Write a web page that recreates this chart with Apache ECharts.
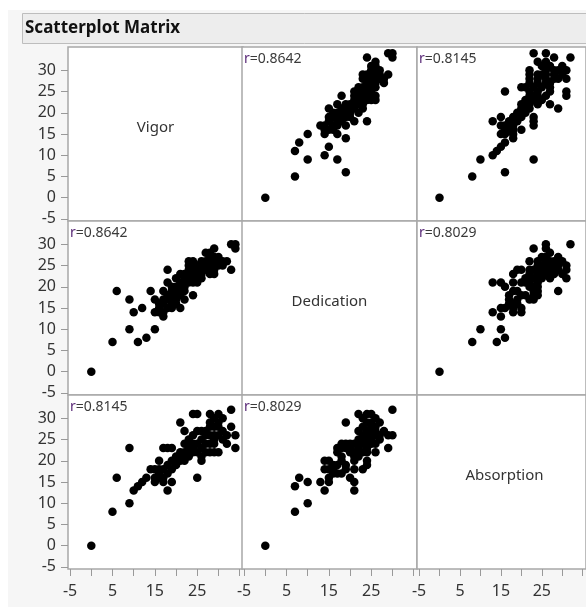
<!DOCTYPE html>
<html><head><meta charset="utf-8">
<script src="https://cdn.jsdelivr.net/npm/echarts@6/dist/echarts.min.js"></script>
<style>html,body{margin:0;padding:0;background:#fff}#c{width:586px;height:607px}</style>
</head><body><div id="c"></div><script>
// ---- data ----
const chartTitle = 'Scatterplot Matrix';
const variables = ['Vigor', 'Dedication', 'Absorption'];
const correlationVD = 'r=0.8642';
const correlationVA = 'r=0.8145';
const correlationDA = 'r=0.8029';
const xTickValues = [-5, 0, 5, 10, 15, 20, 25, 30, 35];
const xLabelValues = [-5, 5, 15, 25];
const yTickValues = [-5, 0, 5, 10, 15, 20, 25, 30];

// [vigor, dedication]
const vigorDedication = [[0,0],[5,7],[6,19],[9,17],[9,10],[10,14],[11,7],[12,15],[13,8],[14,19],[15,17],[15,14],[15,10],[16,15],[17,13],[17,19],[18,24],[18,21],[19,20],[18,15],[19,16],[21,15],[22,17],[24,18],[16,16],[17,16],[17,17],[18,17],[18,18],[19,17],[19,18],[19,19],[20,18],[20,19],[20,20],[21,19],[21,20],[21,21],[22,20],[22,21],[22,22],[23,21],[23,22],[23,23],[24,21],[24,22],[24,23],[24,24],[25,22],[25,23],[25,24],[26,23],[26,24],[26,25],[27,24],[27,25],[28,25],[23,24],[23,25],[22,23],[21,23],[20,22],[25,25],[24,25],[26,26],[27,26],[23,26],[24,26],[28,26],[29,26],[30,26],[31,26],[32,26],[28,27],[29,27],[27,28],[28,28],[29,29],[30,27],[29,25],[30,25],[31,25],[29,23],[28,23],[33,24],[33,30],[34,30],[34,29],[28,24],[29,24],[25,21],[26,22],[21,18],[20,17],[22,19],[20,16],[19,15],[17,14],[16,14]];
// [vigor, absorption]
const vigorAbsorption = [[0,0],[5,8],[6,16],[9,23],[9,10],[10,13],[11,14],[12,15],[13,16],[14,18],[15,18],[16,18],[17,18],[15,16],[16,16],[17,16],[15,15],[17,15],[19,15],[16,20],[17,23],[18,23],[19,23],[18,13],[18,17],[19,18],[20,19],[20,20],[21,20],[21,21],[22,21],[22,22],[23,22],[23,23],[24,23],[24,24],[25,24],[25,22],[20,21],[19,20],[21,22],[22,20],[23,21],[21,29],[24,31],[25,31],[25,16],[26,20],[28,31],[30,31],[33,32],[34,26],[33,28],[34,23],[28,22],[29,22],[30,22],[32,24],[26,25],[27,26],[27,27],[28,28],[28,29],[29,30],[29,28],[30,29],[30,28],[31,30],[26,27],[28,26],[29,26],[30,26],[31,27],[27,24],[26,23],[22,24],[23,25],[24,26],[25,27],[22,27],[31,25],[32,26],[24,22],[26,21],[27,22],[23,24],[29,25],[18,19],[16,17],[28,24],[29,24]];
// [dedication, absorption]
const dedicationAbsorption = [[0,0],[7,8],[7,14],[8,16],[10,15],[10,10],[13,15],[14,13],[15,15],[14,20],[14,18],[15,18],[16,18],[17,17],[18,23],[18,21],[18,20],[19,29],[19,18],[20,16],[21,15],[21,13],[20,22],[21,22],[22,31],[24,31],[25,31],[22,27],[23,28],[24,29],[25,29],[26,30],[24,20],[23,22],[25,25],[26,24],[26,22],[27,29],[28,27],[29,26],[30,26],[29,23],[30,32],[17,19],[17,22],[17,23],[18,24],[19,24],[20,24],[21,24],[21,21],[21,20],[22,21],[22,22],[22,23],[22,24],[22,25],[23,25],[23,26],[24,26],[24,27],[23,24],[24,24],[24,25],[24,23],[24,22],[25,27],[25,28],[25,26],[25,24],[26,27],[26,26],[27,26],[27,25],[26,28],[23,30],[20,23],[19,23],[16,17],[16,19],[15,16],[18,17],[19,19],[15,20],[21,18],[23,18],[24,19]];

// ---- layout ----
const colLeft = [68, 242, 417];
const rowTop = [47, 221, 395];
const cellW = 175, cellH = 174;
const FONT = 'Noto Sans';

const pairs = {'0-1': vigorDedication, '0-2': vigorAbsorption, '1-2': dedicationAbsorption};
const rLabels = {'0-1': correlationVD, '0-2': correlationVA, '1-2': correlationDA};

const grids = [], xAxes = [], yAxes = [], series = [], graphics = [];
graphics.push({type:'rect', shape:{x:8, y:10, width:600, height:600}, style:{fill:'#f6f6f6'}, z:-10});
graphics.push({type:'rect', shape:{x:22.5, y:13.5, width:600, height:30}, style:{fill:'#ededed', stroke:'#bdbdbd', lineWidth:1}, z:-9});
graphics.push({type:'text', left:25, top:20, style:{text:chartTitle, font:'bold 17px "Noto Sans"', fill:'#111'}});

let idx = 0;
for (let r = 0; r < 3; r++) {
  for (let c = 0; c < 3; c++) {
    grids.push({left: colLeft[c], top: rowTop[r], width: cellW, height: cellH, show: true,
      backgroundColor: '#fff', borderColor: '#a8a8a8', borderWidth: 1.5});
    const showX = r === 2, showY = c === 0;
    xAxes.push({type:'value', gridIndex: idx, min:-5.5, max:35.8, splitLine:{show:false},
      axisLine:{show:false, onZero:false},
      axisTick:{show: showX, customValues: xTickValues, length: 7, lineStyle:{color:'#999'}},
      axisLabel:{show: showX, customValues: xLabelValues, margin: 14, fontSize: 16, color:'#333', fontFamily: FONT}});
    yAxes.push({type:'value', gridIndex: idx, min:-5.5, max:35.5, splitLine:{show:false},
      axisLine:{show:false, onZero:false},
      axisTick:{show: showY, customValues: yTickValues, length: 7, lineStyle:{color:'#999'}},
      axisLabel:{show: showY, customValues: yTickValues, margin: 12, fontSize: 16, color:'#333', fontFamily: FONT}});
    if (r === c) {
      graphics.push({type:'text', x: colLeft[c] + cellW / 2, y: rowTop[r] + cellH / 2 - 6,
        style:{text: variables[r], font:'15px "Noto Sans"', fill:'#333', align:'center', verticalAlign:'middle'}});
    } else {
      const key = Math.min(r, c) + '-' + Math.max(r, c);
      const raw = pairs[key];
      // x = variable c, y = variable r
      const data = r < c ? raw.map(p => [p[1], p[0]]) : raw.map(p => [p[0], p[1]]);
      series.push({type:'scatter', xAxisIndex: idx, yAxisIndex: idx, data: data,
        symbol:'circle', symbolSize: 8.5, itemStyle:{color:'#000', opacity: 1}, silent: true, animation:false});
      graphics.push({type:'text', x: colLeft[c] + 2, y: rowTop[r] + 12,
        style:{text: '{a|r}{b|' + rLabels[key].slice(1) + '}', verticalAlign:'middle',
          rich:{a:{fontSize:14, fill:'#5a2a78', fontFamily:FONT}, b:{fontSize:14, fill:'#3a3a3a', fontFamily:FONT}}}, z: 100});
    }
    idx++;
  }
}

const chart = echarts.init(document.getElementById('c'), null, {renderer:'canvas'});
chart.setOption({animation:false, backgroundColor:'#fff', grid: grids, xAxis: xAxes, yAxis: yAxes, series: series, graphic: graphics});
</script></body></html>
